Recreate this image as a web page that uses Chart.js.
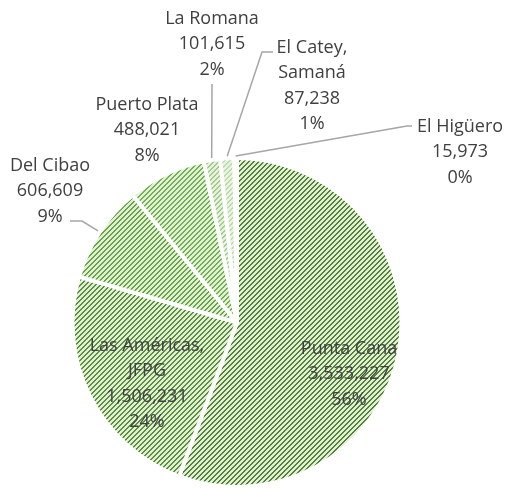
<!DOCTYPE html>
<html>
<head>
<meta charset="utf-8">
<script src="https://cdn.jsdelivr.net/npm/chart.js@4/dist/chart.umd.min.js"></script>
<style>
  html, body { margin: 0; padding: 0; background: #fff; }
  #wrap { width: 506px; height: 489px; }
</style>
</head>
<body>
<div id="wrap"><canvas id="grafico" width="506" height="489"></canvas></div>
<script>
// datos del grafico
const aeropuertos = ["Punta Cana", "Las Américas, JFPG", "Del Cibao", "Puerto Plata", "La Romana", "El Catey, Samaná", "El Higüero"];
const pasajeros = [3533227, 1506231, 606609, 488021, 101615, 87238, 15973];
const porcentajes = ["56%", "24%", "9%", "8%", "2%", "1%", "0%"];
const lineasNombre = [["Punta Cana"], ["Las Américas,", "JFPG"], ["Del Cibao"], ["Puerto Plata"], ["La Romana"], ["El Catey,", "Samaná"], ["El Higüero"]];

// colores de la trama (fondo, linea)
const tramas = [
  ["#e0efd6", "#548235"],
  ["#e0efd6", "#5b8f39"],
  ["#e0efd6", "#68a443"],
  ["#e2f0d9", "#72b14d"],
  ["#e6f2df", "#a3cc8b"],
  ["#eaf4e4", "#bcdaaa"],
  ["#e2f0d9", "#72b14d"]
];

// posicion de las etiquetas: centro del texto y quiebre de la linea guia
const etiquetas = [
  { x: 349, y: 374 },
  { x: 147, y: 384 },
  { x: 50, y: 191, guia: [[70, 221], [82, 221]] },
  { x: 147, y: 130 },
  { x: 212, y: 44, guia: [[212, 84]] },
  { x: 312, y: 86, guia: [[273, 52], [262, 52]] },
  { x: 460, y: 152, guia: [[412, 126], [407, 126]] }
];

function crearTrama(fondo, linea) {
  const c = document.createElement("canvas");
  c.width = 5;
  c.height = 5;
  const g = c.getContext("2d");
  g.fillStyle = fondo;
  g.fillRect(0, 0, 5, 5);
  g.fillStyle = linea;
  for (let x = 0; x < 5; x++) {
    for (let t = 0; t < 2; t++) {
      g.fillRect(x, (4 - x + t) % 5, 1, 1);
    }
  }
  return g.createPattern(c, "repeat");
}

const formato = v => v.toLocaleString("en-US");

const pluginEtiquetas = {
  id: "etiquetas",
  afterDatasetsDraw(chart) {
    const ctx = chart.ctx;
    const arcos = chart.getDatasetMeta(0).data;
    ctx.save();
    ctx.font = "18px 'Open Sans'";
    ctx.textAlign = "center";
    ctx.textBaseline = "middle";
    const alto = 25.5;
    etiquetas.forEach((e, i) => {
      const a = arcos[i];
      if (e.guia) {
        const medio = (a.startAngle + a.endAngle) / 2;
        const r = a.outerRadius + 2;
        ctx.strokeStyle = "#a6a6a6";
        ctx.lineWidth = 1.5;
        ctx.beginPath();
        ctx.moveTo(e.guia[0][0], e.guia[0][1]);
        for (let k = 1; k < e.guia.length; k++) ctx.lineTo(e.guia[k][0], e.guia[k][1]);
        ctx.lineTo(a.x + Math.cos(medio) * r, a.y + Math.sin(medio) * r);
        ctx.stroke();
      }
      const lineas = lineasNombre[i].concat([formato(pasajeros[i]), porcentajes[i]]);
      const y0 = e.y - (lineas.length - 1) * alto / 2;
      ctx.fillStyle = "#404040";
      lineas.forEach((t, k) => ctx.fillText(t, e.x, y0 + k * alto));
    });
    ctx.restore();
  }
};

document.fonts.load("18px 'Open Sans'").then(() => {
  const ctx = document.getElementById("grafico").getContext("2d");
  new Chart(ctx, {
    type: "pie",
    data: {
      labels: aeropuertos,
      datasets: [{
        data: pasajeros,
        backgroundColor: tramas.map(t => crearTrama(t[0], t[1])),
        borderColor: "#ffffff",
        borderWidth: 4
      }]
    },
    options: {
      responsive: false,
      animation: false,
      layout: { padding: { left: 70, right: 102, top: 156, bottom: 0 } },
      plugins: {
        legend: { display: false },
        tooltip: { enabled: false }
      }
    },
    plugins: [pluginEtiquetas]
  });
});
</script>
</body>
</html>
